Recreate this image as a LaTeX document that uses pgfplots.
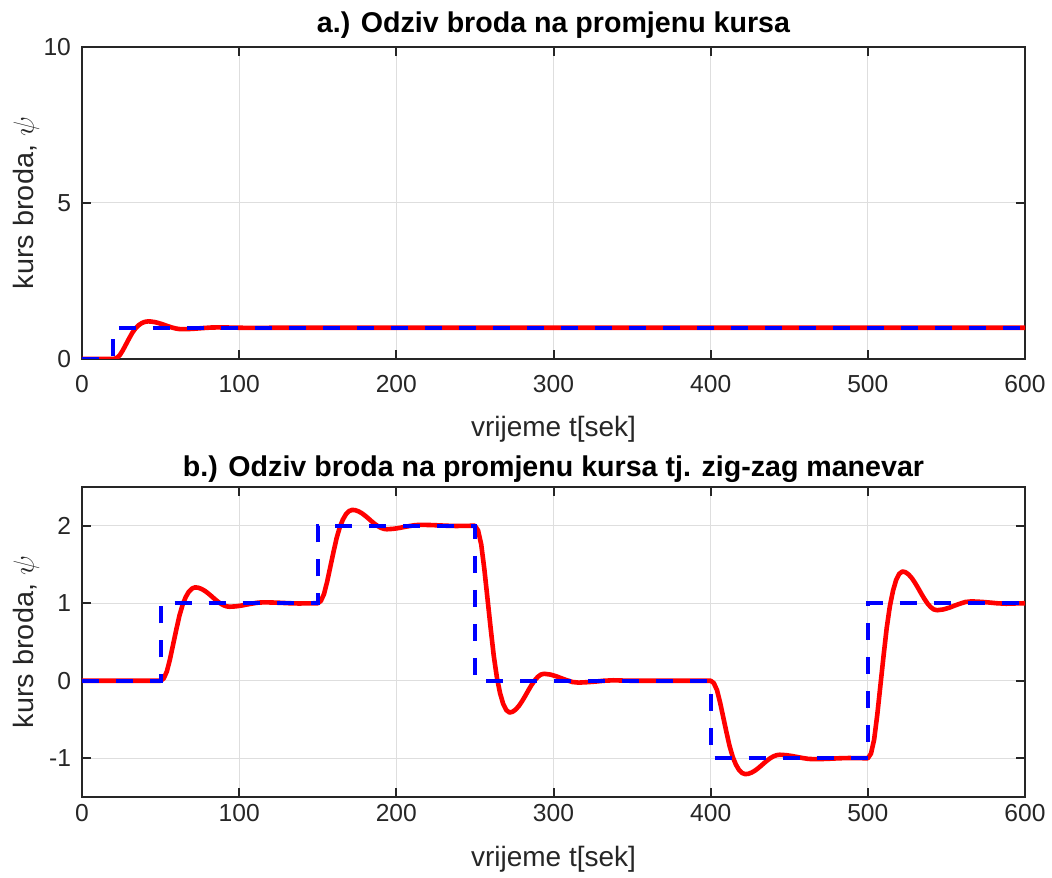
\documentclass[border=0pt]{standalone}
\usepackage{fontspec}
\setmainfont{Liberation Sans}
\usepackage{graphicx}
\usepackage{pgfplots}
\pgfplotsset{compat=1.18}
\pgfplotsset{
  myax/.style={
    scale only axis, width=471.5pt, xmin=0, xmax=600, xtick={0,100,...,600},
    grid=major, major grid style={line width=0.5pt, draw=black!13},
    axis line style={line width=1pt, draw=black!85},
    every tick/.style={line width=1pt, black!85}, major tick length=4.7pt, tick align=inside,
    tick label style={font=\fontsize{12.3}{14}\selectfont, text=black!85},
    yticklabel style={xshift=-2pt},
    /pgf/number format/assume math mode=true,
    label style={font=\fontsize{14}{16}\selectfont, text=black!85},
    title style={font=\fontsize{14.3}{16}\selectfont\bfseries, at={(axis description cs:0.5,1)}, anchor=center},
    ylabel style={anchor=center},
    xlabel={vrijeme t[sek]}, ylabel={\scalebox{1.03}[1]{kurs broda, $\psi$}},
  },
  resp/.style={red, line width=2.3pt, line join=round},
  refl/.style={blue, line width=2pt, dash pattern=on 8.5pt off 8.5pt},
}
\begin{document}
\begin{tikzpicture}
\useasboundingbox (-41pt,-40pt) rectangle (485pt,398.5pt);
% top axis
\begin{axis}[myax, at={(0,219pt)}, height=156pt, ymin=0, ymax=10, ytick={0,5,10},
  title={a.) Odziv broda na promjenu kursa},
  title style={yshift=5pt},
  xticklabel style={yshift=-4.5pt},
  xlabel style={at={(axis description cs:0.5,0)}, anchor=center, yshift=-35pt},
  ylabel style={at={(axis description cs:-0.059,0.5)}},
]
\addplot[resp] coordinates {(0,0)(20,0)(22,0.03)(24,0.12)(26,0.28)(28,0.47)(30,0.66)(32,0.84)(34,0.98)(36,1.08)(38,1.15)(40,1.19)(42,1.205)(44,1.2)(46,1.185)(48,1.162)(50,1.132)(52,1.098)(54,1.062)(56,1.028)(58,0.998)(60,0.975)(62,0.96)(64,0.955)(68,0.96)(72,0.972)(75,0.984)(78,0.995)(82,1.008)(86,1.012)(92,1.009)(97,1.005)(102,1.0)(108,0.997)(115,0.999)(120,1)(600,1)};
\addplot[refl] coordinates {(0,0)(20,0)(20,1)(600,1)};
\end{axis}
% bottom axis
\begin{axis}[myax, at={(0,0)}, height=155pt, ymin=-1.5, ymax=2.5, ytick={-1,0,1,2},
  title={b.) Odziv broda na promjenu kursa tj. zig-zag manevar},
  title style={yshift=3pt},
  xlabel style={at={(axis description cs:0.5,0)}, anchor=center, yshift=-31pt},
  ylabel style={at={(axis description cs:-0.059,0.5)}},
]
\addplot[resp] coordinates {(0,0)(50,0)
(52,0.03)(54,0.12)(56,0.28)(58,0.47)(60,0.66)(62,0.84)(64,0.98)(66,1.08)(68,1.15)(70,1.19)(72,1.205)(74,1.2)(76,1.185)(78,1.162)(80,1.132)(82,1.098)(84,1.062)(86,1.028)(88,0.998)(90,0.975)(92,0.96)(94,0.955)(98,0.96)(102,0.972)(105,0.984)(108,0.995)(112,1.008)(116,1.012)(122,1.009)(127,1.005)(132,1.0)(138,0.997)(145,0.999)(150,1)
(152,1.03)(154,1.12)(156,1.28)(158,1.47)(160,1.66)(162,1.84)(164,1.98)(166,2.08)(168,2.15)(170,2.19)(172,2.205)(174,2.2)(176,2.185)(178,2.162)(180,2.132)(182,2.098)(184,2.062)(186,2.028)(188,1.998)(190,1.975)(192,1.96)(194,1.955)(198,1.96)(202,1.972)(205,1.984)(208,1.995)(212,2.008)(216,2.012)(222,2.009)(227,2.005)(232,2.0)(238,1.997)(245,1.999)(250,2)
(252,1.94)(254,1.76)(256,1.44)(258,1.06)(260,0.68)(262,0.32)(264,0.04)(266,-0.16)(268,-0.30)(270,-0.38)(272,-0.41)(274,-0.40)(276,-0.37)(278,-0.324)(280,-0.264)(282,-0.196)(284,-0.124)(286,-0.056)(288,0.004)(290,0.05)(292,0.08)(294,0.09)(298,0.08)(302,0.056)(305,0.032)(308,0.01)(312,-0.016)(316,-0.024)(322,-0.018)(327,-0.01)(332,0)(338,0.006)(345,0.002)(350,0)(400,0)
(402,-0.03)(404,-0.12)(406,-0.28)(408,-0.47)(410,-0.66)(412,-0.84)(414,-0.98)(416,-1.08)(418,-1.15)(420,-1.19)(422,-1.205)(424,-1.2)(426,-1.185)(428,-1.162)(430,-1.132)(432,-1.098)(434,-1.062)(436,-1.028)(438,-0.998)(440,-0.975)(442,-0.96)(444,-0.955)(448,-0.96)(452,-0.972)(455,-0.984)(458,-0.995)(462,-1.008)(466,-1.012)(472,-1.009)(477,-1.005)(482,-1.0)(488,-0.997)(495,-0.999)(500,-1)
(502,-0.94)(504,-0.76)(506,-0.44)(508,-0.06)(510,0.32)(512,0.68)(514,0.96)(516,1.16)(518,1.30)(520,1.38)(522,1.41)(524,1.40)(526,1.37)(528,1.324)(530,1.264)(532,1.196)(534,1.124)(536,1.056)(538,0.996)(540,0.95)(542,0.92)(544,0.91)(548,0.92)(552,0.944)(555,0.968)(558,0.99)(562,1.016)(566,1.024)(572,1.018)(577,1.01)(582,1.0)(588,0.994)(595,0.998)(600,1)};
\addplot[refl] coordinates {(0,0)(50,0)(50,1)(150,1)(150,2)(250,2)(250,0)(400,0)(400,-1)(500,-1)(500,1)(600,1)};
\end{axis}
\end{tikzpicture}
\end{document}
